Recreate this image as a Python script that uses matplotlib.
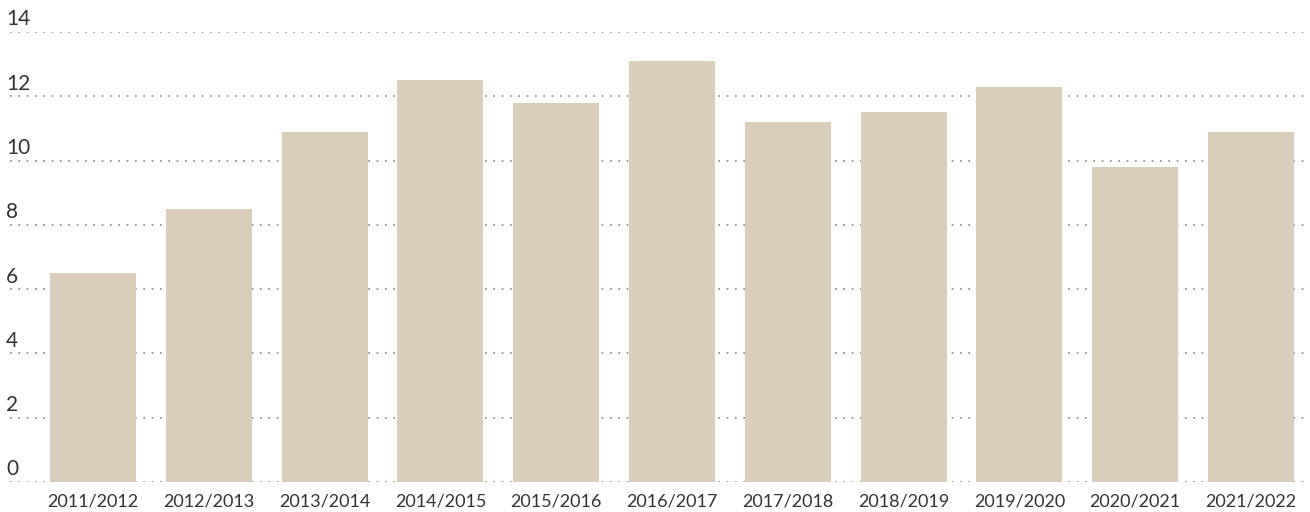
import matplotlib.pyplot as plt

seasons = ["2011/2012", "2012/2013", "2013/2014", "2014/2015", "2015/2016", "2016/2017",
           "2017/2018", "2018/2019", "2019/2020", "2020/2021", "2021/2022"]
values = [6.5, 8.5, 10.9, 12.5, 11.8, 13.1, 11.2, 11.5, 12.3, 9.8, 10.9]
y_ticks = [0, 2, 4, 6, 8, 10, 12, 14]

plt.rcParams["font.family"] = ["Lato", "DejaVu Sans"]

fig = plt.figure(figsize=(13.1, 5.12), dpi=100)
ax = fig.add_axes([10 / 1310, 30 / 512, 1300 / 1310, 450 / 512])

x = list(range(len(seasons)))
ax.bar(x, values, width=0.743, color="#dacdb9", zorder=2)

for t in y_ticks:
    ax.axhline(t, color="#888888", linestyle=(0, (1, 4)), linewidth=1.2, zorder=1)
    ax.text(-0.003, t + 0.08, str(t), transform=ax.get_yaxis_transform(),
            ha="left", va="bottom", fontsize=15, color="#333333")

ax.set_xlim(-0.717, 10.51)
ax.set_ylim(0, 14)
ax.set_xticks(x)
ax.set_xticklabels(seasons, fontsize=13, color="#333333")
ax.tick_params(axis="x", length=0, pad=8)
ax.set_yticks([])
for s in ax.spines.values():
    s.set_visible(False)

fig.savefig("out.png", dpi=100)
